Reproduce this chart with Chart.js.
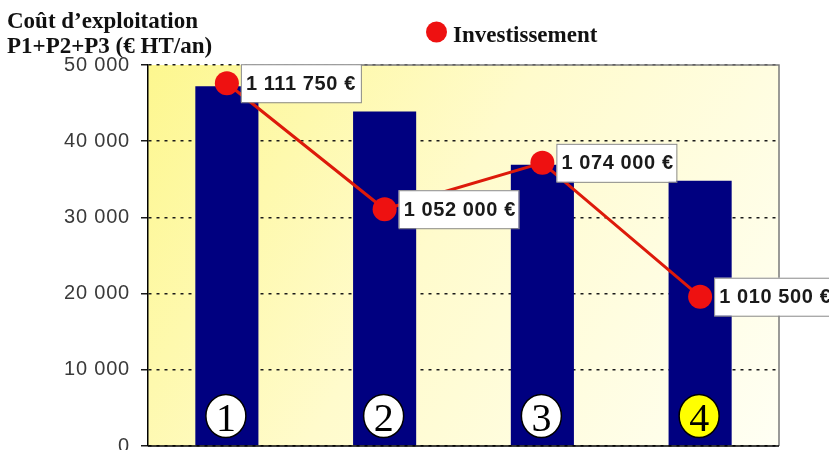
<!DOCTYPE html>
<html>
<head>
<meta charset="utf-8">
<script src="https://cdn.jsdelivr.net/npm/chart.js@4/dist/chart.umd.min.js"></script>
<style>
html,body{margin:0;padding:0;background:#fff;}
#wrap{width:829px;height:450px;position:relative;}
</style>
</head>
<body>
<div id="wrap"><canvas id="c" width="829" height="450"></canvas></div>
<script>
// ---- data ----
const categories = ['1', '2', '3', '4'];
const coutExploitation = [47200, 43900, 36900, 34800];
const investissement = [1111750, 1052000, 1074000, 1010500];
const investLabels = ['1 111 750 €', '1 052 000 €', '1 074 000 €', '1 010 500 €'];
const yTicks = [0, 10000, 20000, 30000, 40000, 50000];
const titleLines = ['Coût d\u2019exploitation', 'P1+P2+P3 (€ HT/an)'];
const legendText = 'Investissement';

function fmt(v){ return String(v).replace(/\B(?=(\d{3})+(?!\d))/g, ' '); }

const bgPlugin = {
  id: 'bg',
  beforeDraw(chart){
    const {ctx, chartArea:a} = chart;
    ctx.save();
    const g = ctx.createLinearGradient(a.left, a.top, a.right, a.bottom);
    g.addColorStop(0, '#fdf78f');
    g.addColorStop(0.45, '#fffbcc');
    g.addColorStop(1, '#fffff4');
    ctx.fillStyle = g;
    ctx.fillRect(a.left, a.top, a.right - a.left, a.bottom - a.top);
    ctx.restore();
    ctx.letterSpacing = '0.8px';
  },
  beforeDatasetsDraw(chart){
    const {ctx, chartArea:a} = chart;
    ctx.save();
    ctx.strokeStyle = '#7a7a7a';
    ctx.lineWidth = 1.5;
    ctx.beginPath();
    ctx.moveTo(a.left + 100, a.top);
    ctx.lineTo(a.right, a.top);
    ctx.lineTo(a.right, a.bottom);
    ctx.stroke();
    ctx.restore();
  },
  afterDatasetsDraw(chart){
    const {ctx, chartArea:a} = chart;
    ctx.save();
    ctx.letterSpacing = '0px';
    // bottom axis line
    ctx.strokeStyle = '#000';
    ctx.lineWidth = 1.5;
    ctx.beginPath();
    ctx.moveTo(a.left, a.bottom);
    ctx.lineTo(a.right, a.bottom);
    ctx.stroke();
    // numbered ellipses
    const barMeta = chart.getDatasetMeta(0);
    barMeta.data.forEach((bar, i) => {
      ctx.beginPath();
      ctx.ellipse(bar.x - 1, 416, 20, 21.5, 0, 0, Math.PI * 2);
      ctx.fillStyle = i === 3 ? '#ffff00' : '#ffffff';
      ctx.fill();
      ctx.lineWidth = 1.5;
      ctx.strokeStyle = '#000';
      ctx.stroke();
      ctx.fillStyle = '#000';
      ctx.font = '40px "Liberation Serif", "Times New Roman", serif';
      ctx.textAlign = 'center';
      ctx.textBaseline = 'alphabetic';
      ctx.fillText(categories[i], bar.x - 1, 431);
    });
    // value labels
    const lineMeta = chart.getDatasetMeta(1);
    lineMeta.data.forEach((pt, i) => {
      const bx = pt.x + 14, bw = 120, bh = 38, by = pt.y - bh / 2;
      ctx.fillStyle = '#ffffff';
      ctx.fillRect(bx, by, bw, bh);
      ctx.strokeStyle = '#8a8a8a';
      ctx.lineWidth = 1;
      ctx.strokeRect(bx + 0.5, by + 0.5, bw, bh);
      ctx.fillStyle = '#1a1a1a';
      ctx.letterSpacing = '0.6px';
      ctx.font = 'bold 20px "Liberation Sans", Arial, sans-serif';
      ctx.textAlign = 'left';
      ctx.textBaseline = 'middle';
      ctx.fillText(investLabels[i], bx + 5, pt.y + 1);
    });
    ctx.restore();
  },
  afterDraw(chart){
    const {ctx} = chart;
    ctx.save();
    ctx.letterSpacing = '0px';
    ctx.fillStyle = '#111';
    ctx.font = 'bold 23px "Liberation Serif", "Times New Roman", serif';
    ctx.textAlign = 'left';
    ctx.textBaseline = 'alphabetic';
    ctx.fillText(titleLines[0], 7, 28);
    ctx.fillText(titleLines[1], 7, 53);
    // legend
    ctx.beginPath();
    ctx.arc(436.5, 32, 10.5, 0, Math.PI * 2);
    ctx.fillStyle = '#ee1111';
    ctx.fill();
    ctx.fillStyle = '#111';
    ctx.fillText(legendText, 453, 42);
    ctx.restore();
  }
};

new Chart(document.getElementById('c'), {
  type: 'bar',
  data: {
    labels: categories,
    datasets: [
      {
        type: 'bar',
        label: 'Coût d\u2019exploitation',
        data: coutExploitation,
        backgroundColor: '#000080',
        borderWidth: 0,
        barPercentage: 0.8,
        categoryPercentage: 0.5,
        yAxisID: 'y',
        order: 2
      },
      {
        type: 'line',
        label: legendText,
        data: investissement,
        borderColor: '#dd1a0a',
        borderWidth: 3,
        backgroundColor: '#ee1111',
        pointBackgroundColor: '#ee1111',
        pointBorderWidth: 0,
        pointRadius: 12,
        tension: 0,
        yAxisID: 'y1',
        order: 1
      }
    ]
  },
  options: {
    responsive: false,
    animation: false,
    layout: { autoPadding: false, padding: { left: 0, top: 65, right: 50, bottom: 4 } },
    plugins: { legend: { display: false }, tooltip: { enabled: false }, title: { display: false } },
    scales: {
      x: { display: false, offset: true },
      y: {
        min: 0, max: 50000,
        afterFit(scale){ scale.width = 148; scale.paddingBottom = 0; scale.paddingTop = 0; },
        afterBuildTicks(scale){ scale.ticks = yTicks.map(v => ({ value: v })); },
        ticks: {
          padding: 11,
          color: '#3a3a3a',
          font: { family: '"Liberation Sans", Arial, sans-serif', size: 20 },
          callback: v => fmt(v)
        },
        grid: { color: '#1a1a1a', lineWidth: 1.5, tickLength: 7, tickColor: '#1a1a1a' },
        border: { display: true, color: '#000', width: 1.5, dash: [3, 5] }
      },
      y1: { display: false, min: 939700, max: 1120400 }
    }
  },
  plugins: [bgPlugin]
});
</script>
</body>
</html>
